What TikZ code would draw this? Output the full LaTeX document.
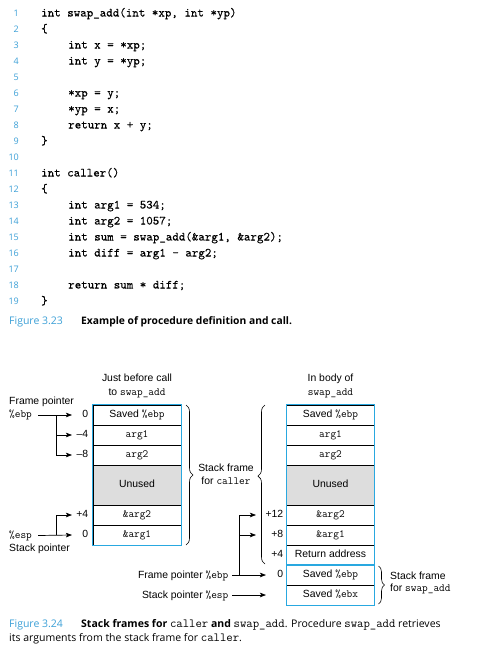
\documentclass[tikz,border=0pt]{standalone}
\usepackage{fontspec}
\setmainfont{Liberation Sans}
\newfontfamily\capfont{Open Sans}
\newfontfamily\codefont{lmmono10-regular}[Extension=.otf, FakeBold=0.18]
\usetikzlibrary{arrows.meta,decorations.pathreplacing}
\definecolor{cyanb}{RGB}{41,168,224}
\definecolor{numblue}{RGB}{60,160,215}
\definecolor{unusedgray}{RGB}{221,221,221}
\newcommand\dtt[1]{{\fontsize{11}{12}\ttfamily #1}}
\newcommand\ctt[1]{{\fontsize{12.4}{14}\ttfamily\mdseries #1}}
\tikzset{
  codeline/.style={anchor=base west, inner sep=0pt, font=\fontsize{12.4}{14}\codefont},
  lnum/.style={anchor=base east, inner sep=0pt, text=numblue, font=\capfont\fontsize{9}{10}\selectfont},
  captxt/.style={anchor=base west, inner sep=0pt, font=\capfont\fontsize{10.5}{14}\selectfont},
  lbl/.style={inner sep=0pt, text height=7.5pt, text depth=2.2pt, font=\fontsize{10.4}{12}\selectfont},
  cell/.style={draw=black, line width=0.6pt, minimum width=88pt, minimum height=20pt, inner sep=0pt,
    text height=7.5pt, text depth=2.2pt, font=\fontsize{10.4}{12}\selectfont},
  unused/.style={cell, minimum height=40pt, fill=unusedgray},
  stackframe/.style={draw=cyanb, line width=1.1pt},
  offl/.style={lbl, anchor=west, align=right},
  ptr/.style={line width=0.7pt, -{Stealth[length=6pt,width=4.5pt,inset=1.2pt]}},
  brc/.style={decorate, line width=0.6pt}
}
\begin{document}
\begin{tikzpicture}[x=1pt,y=-1pt]
\useasboundingbox[fill=white] (0,0) rectangle (489,651);
% ---- code listing ----
\foreach \n in {1,...,19}{
  \node[lnum] (n\n) at (19,{16.5+16*(\n-1)}) {\n};
}
\node[codeline] (c1)  at (41,16.5)  {int swap\_add(int *xp, int *yp)};
\node[codeline] (c2)  at (41,32.5)  {\{};
\node[codeline] (c3)  at (68,48.5)  {int x = *xp;};
\node[codeline] (c4)  at (68,64.5)  {int y = *yp;};
\node[codeline] (c6)  at (68,96.5)  {*xp = y;};
\node[codeline] (c7)  at (68,112.5) {*yp = x;};
\node[codeline] (c8)  at (68,128.5) {return x + y;};
\node[codeline] (c9)  at (41,144.5) {\}};
\node[codeline] (c11) at (41,176.5) {int caller()};
\node[codeline] (c12) at (41,192.5) {\{};
\node[codeline] (c13) at (68,208.5) {int arg1 = 534;};
\node[codeline] (c14) at (68,224.5) {int arg2 = 1057;};
\node[codeline] (c15) at (68,240.5) {int sum = swap\_add(\&arg1, \&arg2);};
\node[codeline] (c16) at (68,256.5) {int diff = arg1 - arg2;};
\node[codeline] (c18) at (68,288.5) {return sum * diff;};
\node[codeline] (c19) at (41,304.5) {\}};
% caption 3.23
\node[captxt, text=numblue] (f23) at (9,324) {Figure 3.23};
\node[captxt, font=\capfont\bfseries\fontsize{10.3}{14}\selectfont] (f23t) at (81,324) {Example of procedure definition and call.};
% ---- left stack ----
\node[lbl] (lt1) at (137,379.3) {Just before call};
\node[lbl] (lt2) at (137,393.3) {to \dtt{swap\_add}};
\node[cell] (L1) at (137,415) {Saved \dtt{\%ebp}};
\node[cell] (L2) at (137,435) {\dtt{arg1}};
\node[cell] (L3) at (137,455) {\dtt{arg2}};
\node[unused] (L4) at (137,485) {Unused};
\node[cell] (L5) at (137,515) {\dtt{\&arg2}};
\node[cell] (L6) at (137,535) {\dtt{\&arg1}};
\draw[stackframe] (L1.north west) rectangle (L6.south east);
% ---- right stack ----
\node[lbl] (rt1) at (330.5,379.3) {In body of};
\node[lbl] (rt2) at (330.5,393.3) {\dtt{swap\_add}};
\node[cell] (R1) at (330.5,415) {Saved \dtt{\%ebp}};
\node[cell] (R2) at (330.5,435) {\dtt{arg1}};
\node[cell] (R3) at (330.5,455) {\dtt{arg2}};
\node[unused] (R4) at (330.5,485) {Unused};
\node[cell] (R5) at (330.5,515) {\dtt{\&arg2}};
\node[cell] (R6) at (330.5,535) {\dtt{\&arg1}};
\node[cell] (R7) at (330.5,555) {Return address};
\node[cell] (R8) at (330.5,575) {Saved \dtt{\%ebp}};
\node[cell] (R9) at (330.5,595) {Saved \dtt{\%ebx}};
\draw[stackframe] (R1.north west) rectangle (R7.south east);
\draw[stackframe] (R8.north west) rectangle (R9.south east);
% ---- left offsets and pointers ----
\node[offl, text width=16pt] (o0)  at (72,415) {0};
\node[offl, text width=16pt] (om4) at (72,435) {\textendash4};
\node[offl, text width=16pt] (om8) at (72,455) {\textendash8};
\node[offl, text width=16pt] (op4) at (72,515) {+4};
\node[offl, text width=16pt] (ob0) at (72,535) {0};
\node[lbl, anchor=west] (fpl) at (9,401.7) {Frame pointer};
\node[lbl, anchor=west] (ebp) at (9,415) {\dtt{\%ebp}};
\node[lbl, anchor=west] (esp) at (9,535.5) {\dtt{\%esp}};
\node[lbl, anchor=west] (spl) at (9,549.3) {Stack pointer};
\coordinate (jl1) at (56,415);
\coordinate (jl2) at (56,535);
\draw[ptr] ([xshift=6pt]ebp.east) -- (o0.west);
\draw[ptr] (jl1) |- (om4.west);
\draw[ptr] (jl1) |- (om8.west);
\draw[ptr] ([xshift=6pt]esp.east) -- (ob0.west);
\draw[ptr] (jl2) |- (op4.west);
% ---- right offsets and pointers ----
\node[offl, text width=27pt] (r12) at (256,515) {+12};
\node[offl, text width=27pt] (r8)  at (256,535) {+8};
\node[offl, text width=27pt] (r4)  at (256,555) {+4};
\node[offl, text width=17pt] (r0)  at (266,575) {0};
\node[lbl, anchor=east] (fpr) at (228.5,575.5) {Frame pointer \dtt{\%ebp}};
\node[lbl, anchor=east] (spr) at (228.5,595.5) {Stack pointer \dtt{\%esp}};
\coordinate (spend) at (266,595);
\coordinate (jr) at (239.3,575);
\draw[ptr] ([xshift=3.5pt]fpr.east |- r0.west) -- (r0.west);
\draw[ptr] (jr) |- (r12.west);
\draw[ptr] (jr) |- (r8.west);
\draw[ptr] ([xshift=3.5pt]spr.east |- spend) -- (spend);
% ---- braces ----
\draw[brc, decoration={brace, amplitude=7pt}] (186,405) -- (186,545);
\draw[brc, decoration={brace, amplitude=7pt, aspect=0.553}] (265,564) -- (265,405);
\draw[brc, decoration={brace, amplitude=6pt}] (378.5,566) -- (378.5,604);
\node[lbl] (sf1) at (226,468.7) {Stack frame};
\node[lbl] (sf2) at (226,481.7) {for \dtt{caller}};
\node[lbl, anchor=west] (sw1) at (390,576.7) {Stack frame};
\node[lbl, anchor=west] (sw2) at (390,589.3) {for \dtt{swap\_add}};
% caption 3.24
\node[captxt, text=numblue] (f24) at (9,627) {Figure 3.24};
\node[captxt] (f24a) at (81,627) {{\bfseries Stack frames for }\ctt{caller}{\bfseries\ and }\ctt{swap\_add}. Procedure \ctt{swap\_add} retrieves};
\node[captxt] (f24b) at (9,641) {its arguments from the stack frame for \ctt{caller}.};
\end{tikzpicture}
\end{document}
